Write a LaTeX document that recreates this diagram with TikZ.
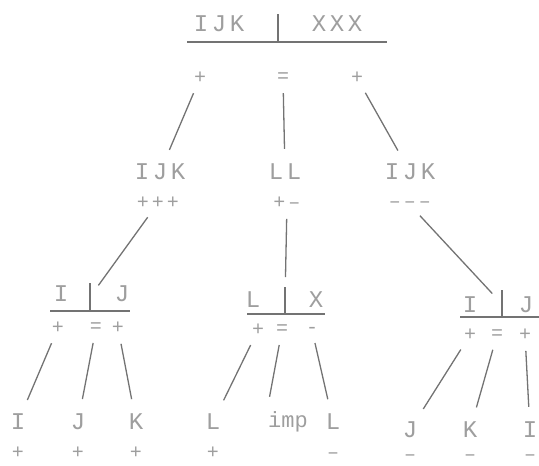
\documentclass[tikz,border=0pt]{standalone}
\usepackage{fontspec}
\newfontfamily\typew[LetterSpace=15]{Liberation Mono}
\newfontfamily\typen{Liberation Mono}
\definecolor{txt}{gray}{0.62}
\definecolor{ink}{gray}{0.45}

\begin{document}
\begin{tikzpicture}[
  x=1pt, y=-1pt,
  lbl/.style={text=txt, font=\typew\fontsize{24}{24}\selectfont, inner sep=1pt},
  sg/.style={text=txt, font=\typew\fontsize{20}{20}\selectfont, inner sep=1pt},
  br/.style={minimum height=27pt, minimum width=0pt, inner sep=0pt},
  ln/.style={draw=ink, line width=1.3pt, shorten <=9pt, shorten >=14pt},
  bar/.style={draw=ink, line width=1.8pt},
  rule/.style={draw=ink, line width=1.1pt}
]
  \useasboundingbox (0,0) rectangle (539,466);

  %--- Level 0 ---
  \node[lbl] (r1) at (219,24) {IJK};
  \node[lbl] (r2) at (337,24) {XXX};
  \node[br] (r) at (278,28) {};
  \draw[bar] (r.north) -- (r.south);
  \draw[rule] (187,42) -- (387,42);
  \node[sg] (p1) at (200,78) {+};
  \node[sg] (p2) at (283,78) {=};
  \node[sg] (p3) at (357,78) {+};

  %--- Level 1 ---
  \node[lbl] (a) at (160,172) {IJK};
  \node[sg] (pa) at (158,203) {+++};
  \node[lbl] (b) at (285,172) {LL};
  \node[sg] (pb) at (287,203) {+–};
  \node[lbl] (c) at (410,172) {IJK};
  \node[sg] (pc) at (410,205) {–––};

  %--- Level 2 ---
  \node[lbl] (dI) at (61,294) {I};
  \node[br] (d) at (90,297) {};
  \node[lbl] (dJ) at (122,294) {J};
  \draw[bar] (d.north) -- (d.south);
  \draw[rule] (50,311) -- (130,311);
  \node[sg] (d1) at (58,328) {+};
  \node[sg] (d2) at (96,328) {=};
  \node[sg] (d3) at (118,328) {+};

  \node[lbl] (eL) at (253,300) {L};
  \node[br] (e) at (285,301) {};
  \node[lbl] (eX) at (316,300) {X};
  \draw[bar] (e.north) -- (e.south);
  \draw[rule] (247,314) -- (325,314);
  \node[sg] (e1) at (258,330) {+};
  \node[sg] (e2) at (282,330) {=};
  \node[sg] (e3) at (312,330) {-};

  \node[lbl] (fI) at (470,305) {I};
  \node[br] (f) at (502,304) {};
  \node[lbl] (fJ) at (526,305) {J};
  \draw[bar] (f.north) -- (f.south);
  \draw[rule] (460,317) -- (539,317);
  \node[sg] (f1) at (470,335) {+};
  \node[sg] (f2) at (497,335) {=};
  \node[sg] (f3) at (525,335) {+};

  %--- Level 3 ---
  \node[lbl] (dl1) at (18,422) {I};
  \node[lbl] (dl2) at (78,422) {J};
  \node[lbl] (dl3) at (136,422) {K};
  \node[sg] at (18,453) {+};
  \node[sg] at (78,453) {+};
  \node[sg] at (136,453) {+};

  \node[lbl] (el1) at (213,422) {L};
  \node[lbl, font=\typen\fontsize{22}{22}\selectfont] (el2) at (288,422) {imp};
  \node[lbl] (el3) at (333,422) {L};
  \node[sg] at (213,453) {+};
  \node[sg] at (333,456) {–};

  \node[lbl] (fl1) at (410,430) {J};
  \node[lbl] (fl2) at (470,430) {K};
  \node[lbl] (fl3) at (530,430) {I};
  \node[sg] at (410,458) {–};
  \node[sg] at (470,458) {–};
  \node[sg] at (530,458) {–};

  % Edges
  \draw[ln] (p1)--(a);  \draw[ln] (p2)--(b);  \draw[ln] (p3)--(c);
  \draw[ln] (pa)--(d);  \draw[ln] (pb)--(e);  \draw[ln] (pc)--(f);
  \draw[ln] (d1)--(dl1); \draw[ln] (d2)--(dl2); \draw[ln] (d3)--(dl3);
  \draw[ln] (e1)--(el1); \draw[ln] (e2)--(el2.north west); \draw[ln] (e3)--(el3);
  \draw[ln] (f1)--(fl1); \draw[ln] (f2)--(fl2); \draw[ln] (f3)--(fl3);
\end{tikzpicture}
\end{document}
